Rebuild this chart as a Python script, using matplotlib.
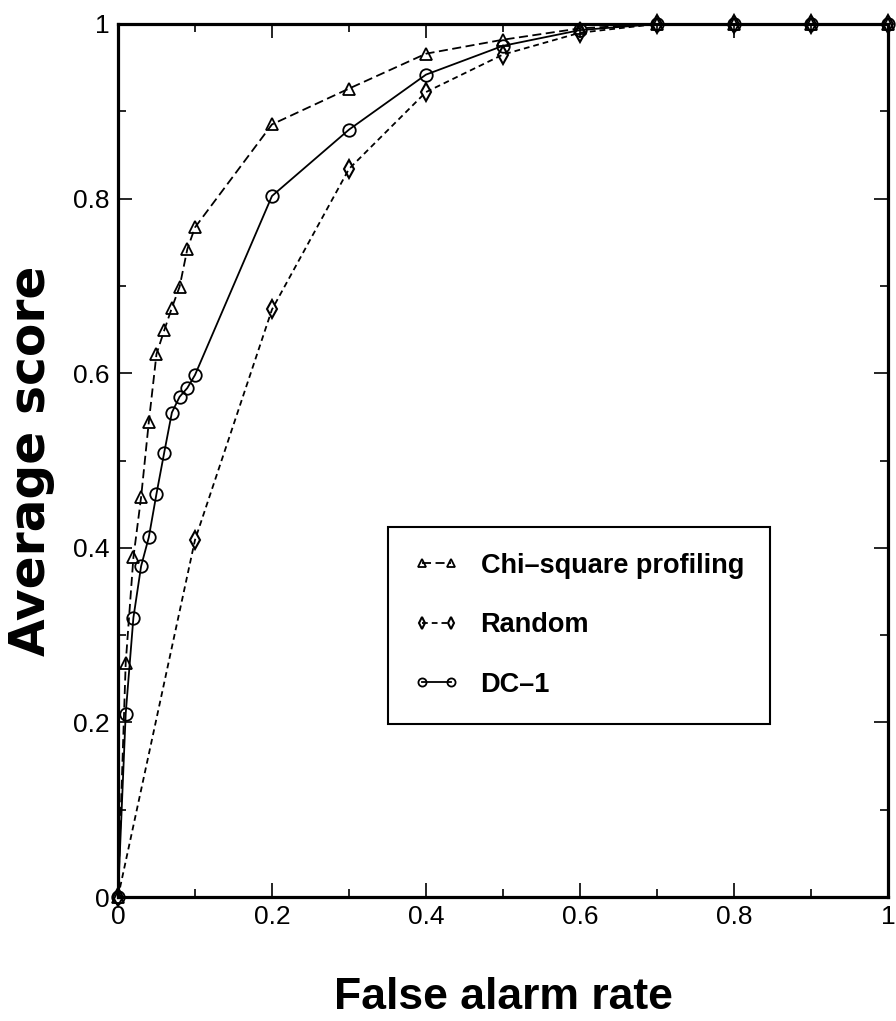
import numpy as np
import matplotlib.pyplot as plt

fpr = [0, 0.01, 0.02, 0.03, 0.04, 0.05, 0.06, 0.07, 0.08, 0.09, 0.1,
       0.2, 0.3, 0.4, 0.5, 0.6, 0.7, 0.8, 0.9, 1.0]
chi = [0, 0.268, 0.389, 0.458, 0.544, 0.622, 0.649, 0.675, 0.699, 0.742, 0.767,
       0.885, 0.926, 0.966, 0.982, 0.995, 1.0, 1.0, 1.0, 1.0]
dc1 = [0, 0.21, 0.32, 0.379, 0.412, 0.462, 0.509, 0.555, 0.573, 0.583, 0.598,
       0.803, 0.879, 0.942, 0.975, 0.993, 1.0, 1.0, 1.0, 1.0]
rand_x = [0, 0.1, 0.2, 0.3, 0.4, 0.5, 0.6, 0.7, 0.8, 0.9, 1.0]
rand_y = [0, 0.409, 0.673, 0.834, 0.922, 0.965, 0.99, 1.0, 1.0, 1.0, 1.0]
tick_vals = [0, 0.2, 0.4, 0.6, 0.8, 1.0]
tick_txt = ['0', '0.2', '0.4', '0.6', '0.8', '1']

plt.rcParams['font.family'] = ['Liberation Sans', 'DejaVu Sans']

fig = plt.figure(figsize=(8.96, 10.21), dpi=100)
ax = fig.add_axes([0.1317, 0.1214, 0.8593, 0.8551])

ax.plot(fpr, chi, color='black', lw=1.3, ls=(0, (5, 2.5)), marker='^',
        ms=9, mfc='none', mec='black', mew=1.3, label='Chi\u2013square profiling',
        clip_on=False, zorder=3)
ax.plot(rand_x, rand_y, color='black', lw=1.3, ls=(0, (3.2, 2.2)), marker='d',
        ms=9, mfc='none', mec='black', mew=1.5, label='Random',
        clip_on=False, zorder=3)
ax.plot(fpr, dc1, color='black', lw=1.3, ls='-', marker='o',
        ms=9, mfc='none', mec='black', mew=1.3, label='DC\u20131',
        clip_on=False, zorder=3)

ax.set_xlim(0, 1)
ax.set_ylim(0, 1)
ax.set_xticks(tick_vals)
ax.set_yticks(tick_vals)
ax.set_xticklabels(tick_txt)
ax.set_yticklabels(tick_txt)
ax.set_xticks(np.arange(0.1, 1, 0.2), minor=True)
ax.set_yticks(np.arange(0.1, 1, 0.2), minor=True)
ax.tick_params(which='both', direction='in', top=True, right=True,
               labelsize=19, width=1.2)
ax.tick_params(which='major', length=10, pad=6)
ax.tick_params(which='minor', length=6)
for s in ax.spines.values():
    s.set_linewidth(2.3)

ax.set_xlabel('False alarm rate', fontsize=32, fontweight='bold', labelpad=34)
ax.set_ylabel('Average score', fontsize=35, fontweight='bold',
              family='DejaVu Sans', labelpad=13)

leg = ax.legend(loc='upper left', bbox_to_anchor=(0.3506, 0.4238),
                borderaxespad=0,
                prop={'weight': 'bold', 'size': 19.5},
                frameon=True, fancybox=False, edgecolor='black',
                numpoints=2, handlelength=1.67, markerscale=0.65, borderpad=0.95,
                labelspacing=1.24, handletextpad=0.8)
leg.get_frame().set_linewidth(1.5)
leg.get_frame().set_alpha(1)

fig.savefig('out.png', dpi=100)
